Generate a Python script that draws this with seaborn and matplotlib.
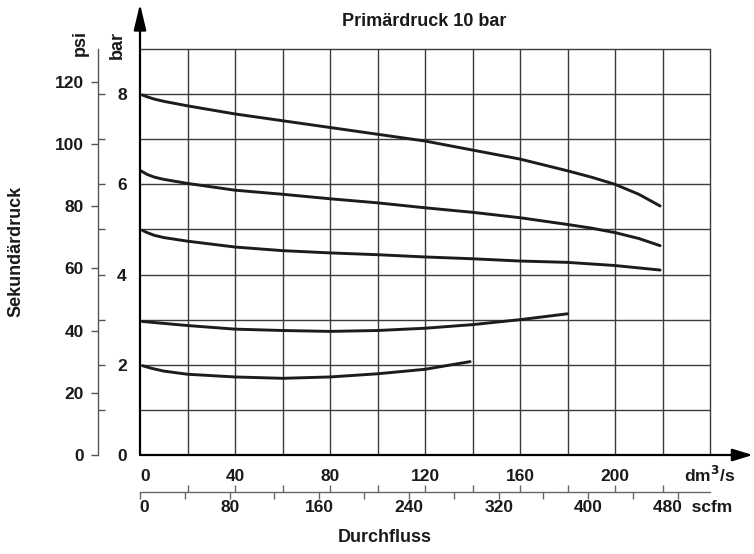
import seaborn as sns
import matplotlib.pyplot as plt
import pandas as pd
import numpy as np

# Kennlinien: Durchfluss (dm3/s) -> Sekundaerdruck (bar)
q1 = [1, 3, 6, 10, 20, 40, 60, 80, 100, 120, 140, 160, 180, 190, 200, 210, 219]
p1 = [7.98, 7.94, 7.89, 7.84, 7.74, 7.56, 7.41, 7.26, 7.11, 6.96, 6.76, 6.56, 6.30, 6.16, 6.00, 5.78, 5.52]
q2 = [0, 3, 6, 10, 20, 40, 60, 80, 100, 120, 140, 160, 180, 190, 200, 210, 219]
p2 = [6.31, 6.22, 6.16, 6.11, 6.02, 5.87, 5.78, 5.68, 5.59, 5.48, 5.38, 5.26, 5.11, 5.03, 4.93, 4.80, 4.64]
q3 = [1, 3, 6, 10, 20, 40, 60, 80, 100, 120, 140, 160, 180, 200, 219]
p3 = [4.98, 4.93, 4.87, 4.82, 4.74, 4.61, 4.53, 4.48, 4.44, 4.39, 4.35, 4.30, 4.27, 4.20, 4.10]
q4 = [1, 20, 40, 60, 80, 100, 120, 140, 160, 180]
p4 = [2.96, 2.87, 2.79, 2.76, 2.74, 2.76, 2.81, 2.89, 3.00, 3.13]
q5 = [1, 5, 10, 20, 40, 60, 80, 100, 120, 139]
p5 = [1.98, 1.92, 1.86, 1.79, 1.73, 1.70, 1.73, 1.80, 1.90, 2.07]

dm3_labels = [0, 40, 80, 120, 160, 200]
dm3_ticks = [0, 20, 40, 60, 80, 100, 120, 140, 160, 180, 200, 220]
scfm_labels = [0, 80, 160, 240, 320, 400]
scfm_ticks = [0, 40, 80, 120, 160, 200, 240, 280, 320, 360, 400, 440, 480]
bar_labels = [0, 2, 4, 6, 8]
psi_labels = [0, 20, 40, 60, 80, 100, 120]
grid_q = [20, 40, 60, 80, 100, 120, 140, 160, 180, 200, 220, 240]
grid_p = [1, 2, 3, 4, 5, 6, 7, 8, 9]

PSI_PER_BAR = 14.5038
DM3_PER_SCFM = 0.4719

frames = []
for i, (q, p) in enumerate([(q1, p1), (q2, p2), (q3, p3), (q4, p4), (q5, p5)]):
    frames.append(pd.DataFrame({'q': q, 'p': p, 'curve': i}))
df = pd.concat(frames)

sns.set_theme(style='white')
plt.rcParams['font.family'] = ['Liberation Sans', 'DejaVu Sans']
plt.rcParams['font.weight'] = 'bold'

W, H = 754, 554
fig = plt.figure(figsize=(W / 100, H / 100), dpi=100)
fig.patch.set_facecolor('white')
txt = dict(fontsize=12.5, fontweight='bold', color='#1a1a1a')

# Hauptdiagramm
ax = fig.add_axes([140 / W, 99 / H, 570 / W, 406 / H])
ax.set_xlim(0, 240)
ax.set_ylim(0, 9)
for s in ax.spines.values():
    s.set_visible(False)

for g in grid_q:
    ax.plot([g, g], [0, 9], color='#3c3c3c', lw=1.0, clip_on=False, zorder=1)
for g in grid_p:
    ax.plot([0, 240], [g, g], color='#3c3c3c', lw=1.0, clip_on=False, zorder=1)

sns.lineplot(data=df, x='q', y='p', units='curve', estimator=None,
             color='#1c1c1c', lw=2.1, ax=ax, zorder=3)

# Achsen mit Pfeil
arrow = dict(color='black', lw=1.6, shrinkA=0, shrinkB=0, mutation_scale=15)
ax.annotate('', xy=(258, 0), xytext=(0, 0), annotation_clip=False,
            arrowprops=dict(arrowstyle='-|>,head_length=0.82,head_width=0.25', **arrow))
ax.annotate('', xy=(0, 10.0), xytext=(0, 0), annotation_clip=False,
            arrowprops=dict(arrowstyle='-|>,head_length=1.05,head_width=0.25', **arrow))

ax.set_xticks(dm3_labels)
ax.set_xticklabels([str(v) for v in dm3_labels])
ax.set_yticks(bar_labels)
ax.set_yticklabels([str(v) for v in bar_labels])
ax.tick_params(axis='x', length=0, pad=10, labelsize=12.5, labelcolor='#1a1a1a')
ax.tick_params(axis='y', length=0, pad=9.5, labelsize=12.5, labelcolor='#1a1a1a')
for t in ax.get_xticklabels() + ax.get_yticklabels():
    t.set_fontweight('bold')
ax.get_xticklabels()[0].set_horizontalalignment('left')
ax.set_xlabel('')
ax.set_ylabel('')
ax.text(240, -0.45, 'dm$^\\mathbf{3}$/s', ha='center', va='center', **txt)

# scfm-Beschriftung unter der zweiten Skala
for v in scfm_labels:
    ax.text(v * DM3_PER_SCFM + (1.7 if v == 0 else 0), -1.16, str(v),
            ha='center', va='center', **txt)
ax.text(215.8, -1.16, '480  scfm', ha='left', va='center', **txt)

# psi-Skala
axp = fig.add_axes([98 / W, 99 / H, 0.0001, 406 / H])
axp.set_ylim(0, 9 * PSI_PER_BAR)
axp.set_facecolor('none')
for k in ['top', 'bottom', 'right']:
    axp.spines[k].set_visible(False)
axp.spines['left'].set_color('#555555')
axp.spines['left'].set_linewidth(1.0)
axp.set_xticks([])
axp.set_yticks(psi_labels)
axp.set_yticklabels([str(v) for v in psi_labels])
axp.set_yticks([b * PSI_PER_BAR for b in range(0, 9)], minor=True)
axp.tick_params(axis='y', which='major', left=True, right=False, length=5, width=1,
                color='#555555', pad=5, labelsize=12.5, labelcolor='#1a1a1a')
axp.tick_params(axis='y', which='minor', left=False, right=True, length=5, width=1,
                color='#555555')
for t in axp.get_yticklabels():
    t.set_fontweight('bold')

# scfm-Skala
axs = fig.add_axes([140 / W, 62 / H, 570 / W, 0.0001])
axs.set_xlim(0, 240)
axs.set_facecolor('none')
for k in ['top', 'left', 'right']:
    axs.spines[k].set_visible(False)
axs.spines['bottom'].set_color('#666666')
axs.spines['bottom'].set_linewidth(1.0)
axs.set_yticks([])
axs.set_xticks([v * DM3_PER_SCFM for v in scfm_ticks])
axs.set_xticklabels([])
axs.set_xticks(dm3_ticks, minor=True)
axs.tick_params(axis='x', which='major', bottom=True, top=False, length=5, width=1,
                color='#666666')
axs.tick_params(axis='x', which='minor', bottom=False, top=True, length=5, width=1,
                color='#666666')

# Beschriftungen
lab = dict(fontsize=13, fontweight='bold', color='#1a1a1a')
fig.text(424.5 / W, 1 - 21.5 / H, 'Primärdruck 10 bar', ha='center', va='center', **lab)
fig.text(385 / W, 1 - 538 / H, 'Durchfluss', ha='center', va='center', **lab)
fig.text(15.5 / W, 1 - 251 / H, 'Sekundärdruck', ha='center', va='center',
         rotation=90, **lab)
fig.text(80.5 / W, 1 - 43 / H, 'psi', ha='center', va='center', rotation=90, **lab)
fig.text(117 / W, 1 - 45 / H, 'bar', ha='center', va='center', rotation=90, **lab)

fig.savefig('out.png', dpi=100, facecolor='white')
